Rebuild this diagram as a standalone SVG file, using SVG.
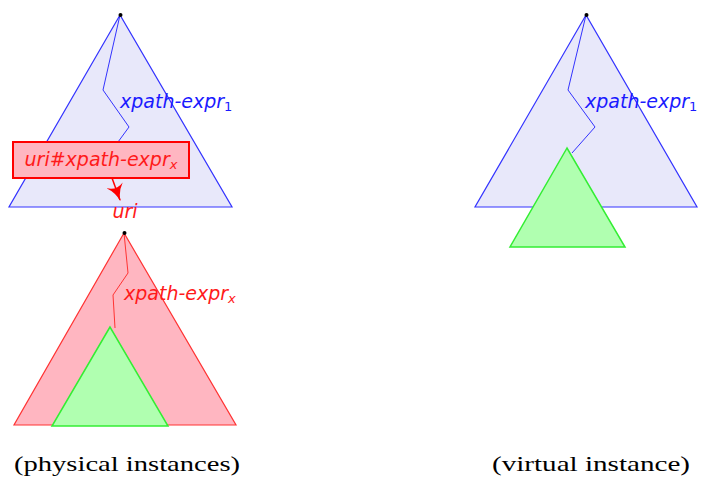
<svg xmlns="http://www.w3.org/2000/svg" width="702" height="477" viewBox="0 0 702 477">
<style>
.blue{fill:#e8e8fa;stroke:#3333ff;stroke-width:1.2}
.pink{fill:#ffb6c1;stroke:#ff3333;stroke-width:1.2}
.green{fill:#b0ffb0;stroke:#33ee33;stroke-width:1.5}
.lb{font-family:"DejaVu Sans",sans-serif;font-style:italic;font-size:19px}
.cap{font-family:"Liberation Serif",serif;font-size:22px;fill:#000}
.path{fill:none;stroke-width:1}
</style>
<defs>
<marker id="ah" viewBox="0 0 12 12" refX="11" refY="6" markerWidth="17" markerHeight="17" markerUnits="userSpaceOnUse" orient="auto">
<path d="M0,0 Q5,5 12,6 Q5,7 0,12 Q4,6 0,0 Z" fill="#ff0000"/>
</marker>
</defs>
<g id="tree1">
<polygon class="blue" points="120,15 9,207 232,207"/>
<polyline class="path" stroke="#3333ff" points="120,15 103,90 129,127 118,142"/>
<circle cx="120.5" cy="15" r="2" fill="#000"/>
<text class="lb" x="120" y="108" fill="#1a1aff">xpath-expr<tspan font-style="normal" font-size="13" dy="3">1</tspan></text>
</g>
<g id="tree2">
<polygon class="pink" points="124,233 14,425 236,425"/>
<polyline class="path" stroke="#ff3333" points="124,233 128,273 113,295 115,328"/>
<circle cx="124.5" cy="233" r="2" fill="#000"/>
<polygon class="green" points="110,327 52,426 168,426"/>
<text class="lb" x="124" y="300" fill="#ff1a1a">xpath-expr<tspan font-size="13" dy="3">x</tspan></text>
</g>
<g id="tree3">
<polygon class="blue" points="586,15 475,207 697,207"/>
<polyline class="path" stroke="#3333ff" points="586,15 568,90 595,127 572,153"/>
<circle cx="586.5" cy="15" r="2" fill="#000"/>
<polygon class="green" points="567,148 510,247 625,247"/>
<text class="lb" x="585" y="108" fill="#1a1aff">xpath-expr<tspan font-style="normal" font-size="13" dy="3">1</tspan></text>
</g>
<g id="uri">
<text class="lb" x="125" y="218" text-anchor="middle" fill="#ff1a1a">uri</text>
</g>
<g id="connectors">
<line x1="112" y1="178" x2="120" y2="200" stroke="#ff0000" stroke-width="1.5" marker-end="url(#ah)"/>
</g>
<g id="box">
<rect x="13" y="142" width="176" height="36" fill="#ffb6c1" stroke="#ff0000" stroke-width="2"/>
<text class="lb" x="101" y="166" text-anchor="middle" fill="#ff1a1a">uri#xpath-expr<tspan font-size="13" dy="3">x</tspan></text>
</g>
<g id="captions">
<text class="cap" x="14" y="471" textLength="226" lengthAdjust="spacingAndGlyphs">(physical instances)</text>
<text class="cap" x="492" y="471" textLength="198" lengthAdjust="spacingAndGlyphs">(virtual instance)</text>
</g>
</svg>
